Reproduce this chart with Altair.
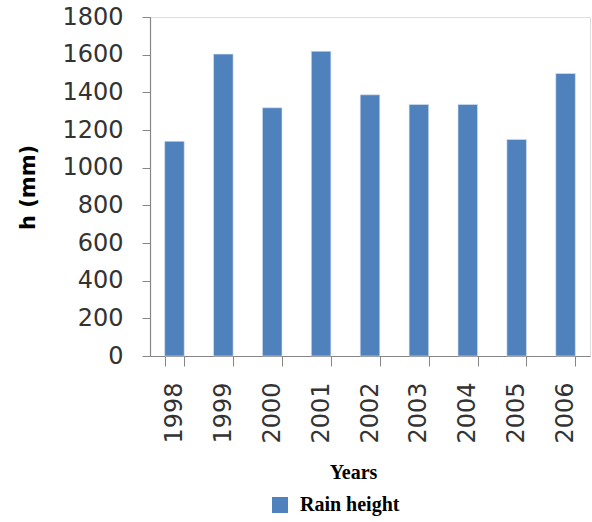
import altair as alt
import pandas as pd

years = ["1998", "1999", "2000", "2001", "2002", "2003", "2004", "2005", "2006"]
rain_height = [1140, 1603, 1318, 1618, 1387, 1336, 1336, 1150, 1500]
series = ["Rain height"] * len(years)

df = pd.DataFrame({"Year": years, "h": rain_height, "Series": series})

TXT = "#333333"
AX = "#868686"

chart = alt.Chart(df).mark_bar(color="#4F81BD", stroke="#dce6f2", strokeWidth=0.6).encode(
    x=alt.X(
        "Year:N",
        sort=years,
        scale=alt.Scale(paddingInner=0.6, paddingOuter=0.3),
        axis=alt.Axis(
            title="Years",
            titleFont="Liberation Serif",
            titleFontSize=20,
            titleFontWeight="bold",
            titleColor="black",
            titleX=203,
            titleY=116,
            titleAlign="center",
            titleBaseline="middle",
            labelAngle=270,
            labelAlign="right",
            labelBaseline="middle",
            labelFont="DejaVu Sans",
            labelFontSize=24,
            labelColor=TXT,
            labelPadding=16,
            tickSize=10,
            tickBand="extent",
            tickColor=AX,
            domainColor=AX,
            tickWidth=1,
            domainWidth=1.2,
            grid=False,
        ),
    ),
    y=alt.Y(
        "h:Q",
        scale=alt.Scale(domain=[0, 1800], nice=False),
        axis=alt.Axis(
            title="h (mm)",
            values=[0, 200, 400, 600, 800, 1000, 1200, 1400, 1600, 1800],
            format="d",
            titleFont="DejaVu Sans",
            titleFontSize=21,
            titleFontWeight="bold",
            titleColor="black",
            titleAngle=270,
            titleX=-122,
            titleY=170,
            titleAlign="center",
            titleBaseline="middle",
            labelFont="DejaVu Sans",
            labelFontSize=24,
            labelColor=TXT,
            labelPadding=19,
            labelBaseline="middle",
            tickSize=8,
            tickColor=AX,
            domainColor=AX,
            tickWidth=1,
            domainWidth=1.2,
            grid=False,
        ),
    ),
    fill=alt.Fill(
        "Series:N",
        scale=alt.Scale(range=["#4F81BD"]),
        legend=alt.Legend(
            title=None,
            orient="none",
            legendX=120,
            legendY=478,
            symbolType="square",
            symbolSize=256,
            symbolStrokeWidth=0,
            labelFont="Liberation Serif",
            labelFontSize=20,
            labelFontWeight="bold",
            labelColor="black",
            labelOffset=10,
        ),
    ),
).properties(
    width=440,
    height=339,
    autosize=alt.AutoSizeParams(type="none"),
    padding={"left": 150, "top": 17, "right": 2, "bottom": 166},
).configure_view(stroke=None).configure(background="white")

chart.save("out.html", embed_options={"renderer": "svg", "actions": False})
